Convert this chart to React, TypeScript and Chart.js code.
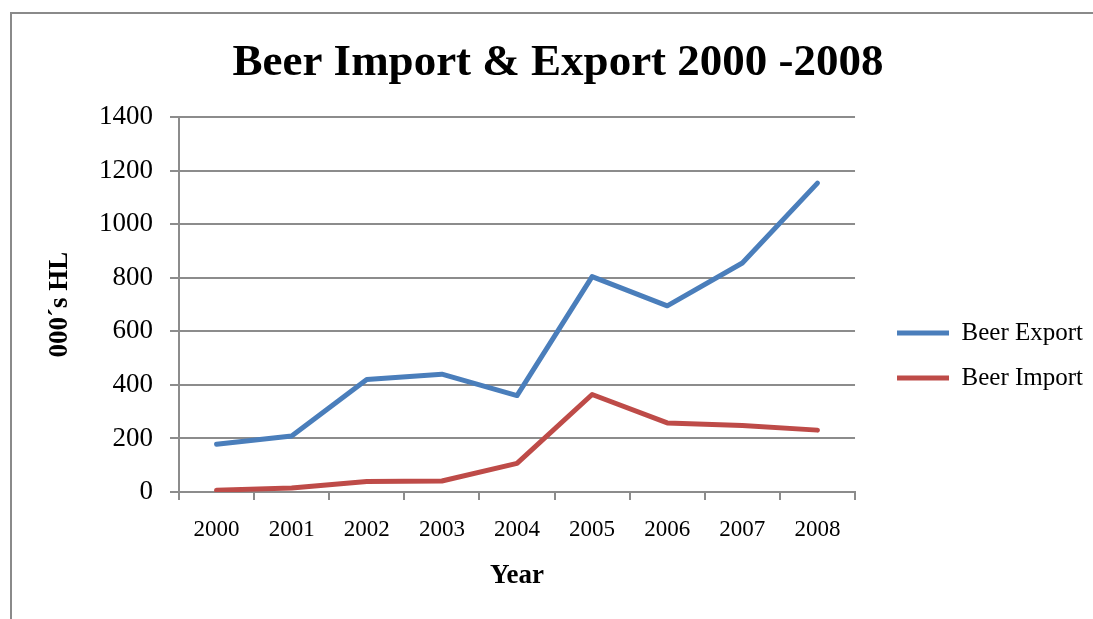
import React, { useEffect, useRef } from 'react';
import { Chart, registerables } from 'chart.js';

Chart.register(...registerables);

const years = ['2000', '2001', '2002', '2003', '2004', '2005', '2006', '2007', '2008'];
const beerExport = [178, 209, 420, 440, 360, 804, 695, 855, 1153];
const beerImport = [7, 15, 39, 41, 107, 364, 258, 248, 231];
const yMin = 0;
const yMax = 1400;
const yStep = 200;

const SERIF = '"Liberation Serif", "Times New Roman", serif';
const GRID = '#8c8c8c';

export default function App() {
  const ref = useRef<HTMLCanvasElement | null>(null);

  useEffect(() => {
    if (!ref.current) return;
    const chart = new Chart(ref.current, {
      type: 'line',
      data: {
        labels: years,
        datasets: [
          {
            label: 'Beer Export',
            data: beerExport,
            borderColor: '#4A7EBB',
            backgroundColor: '#4A7EBB',
            borderWidth: 5,
            pointRadius: 0,
            tension: 0,
            borderCapStyle: 'round',
            borderJoinStyle: 'round',
          },
          {
            label: 'Beer Import',
            data: beerImport,
            borderColor: '#BE4B48',
            backgroundColor: '#BE4B48',
            borderWidth: 5,
            pointRadius: 0,
            tension: 0,
            borderCapStyle: 'round',
            borderJoinStyle: 'round',
          },
        ],
      },
      options: {
        responsive: false,
        animation: false,
        devicePixelRatio: 1,
        layout: { padding: { left: 23, right: 0, top: 0, bottom: 0 } },
        plugins: {
          tooltip: { enabled: false },
          title: {
            display: true,
            text: 'Beer Import & Export 2000 -2008',
            color: '#000',
            font: { family: SERIF, size: 45, weight: 'bold' },
            padding: { top: 36, bottom: 27 },
          },
          legend: {
            display: true,
            position: 'right',
            align: 'center',
            maxWidth: 216,
            title: {
              display: true,
              text: ' ',
              font: { size: 12 },
              padding: { top: 77.6, bottom: 0 },
            },
            labels: {
              color: '#000',
              font: { family: SERIF, size: 25 },
              boxWidth: 52,
              boxHeight: 5,
              padding: 20,
              generateLabels: (c: any) =>
                c.data.datasets.map((ds: any, i: number) => ({
                  text: ds.label,
                  fillStyle: ds.borderColor,
                  strokeStyle: ds.borderColor,
                  lineWidth: 0,
                  hidden: false,
                  datasetIndex: i,
                  fontColor: '#000',
                })),
            },
          },
        },
        scales: {
          x: {
            type: 'category',
            offset: true,
            grid: {
              display: true,
              offset: true,
              drawOnChartArea: false,
              drawTicks: true,
              tickLength: 8,
              color: GRID,
              lineWidth: 2,
            },
            border: { display: true, color: GRID, width: 2 },
            ticks: {
              color: '#000',
              font: { family: SERIF, size: 23 },
              padding: 16,
              maxRotation: 0,
              autoSkip: false,
            },
            title: {
              display: true,
              text: 'Year',
              color: '#000',
              font: { family: SERIF, size: 27, weight: 'bold' },
              padding: { top: 26.8, bottom: 26.8 },
            },
            afterFit: (s: any) => {
              s.height = 127;
            },
          },
          y: {
            min: yMin,
            max: yMax,
            grid: {
              color: GRID,
              lineWidth: 2,
              tickLength: 9,
              drawTicks: true,
            },
            border: { display: true, color: GRID, width: 2 },
            ticks: {
              stepSize: yStep,
              color: '#000',
              font: { family: SERIF, size: 27 },
              padding: 17,
              callback: (v: any) => String(v),
            },
            title: {
              display: true,
              text: '000´s HL',
              color: '#000',
              font: { family: SERIF, size: 27, weight: 'bold' },
              padding: { top: 20.8, bottom: 0 },
            },
            afterFit: (s: any) => {
              s.width = 156;
            },
          },
          spacer: {
            type: 'linear',
            position: 'right',
            display: true,
            min: 0,
            max: 1,
            grid: { display: false, drawTicks: false },
            border: { display: false },
            ticks: { display: false },
            afterFit: (s: any) => {
              s.width = 22;
            },
          },
        },
      },
    } as any);
    return () => chart.destroy();
  }, []);

  return (
    <div style={{ position: 'fixed', left: 0, top: 0, width: 1093, height: 619, overflow: 'hidden', background: '#fff' }}>
      <div
        style={{
          position: 'absolute',
          left: 10,
          top: 12,
          width: 1200,
          height: 800,
          borderLeft: '2px solid #8a8a8a',
          borderTop: '2px solid #8a8a8a',
          boxSizing: 'border-box',
        }}
      />
      <canvas ref={ref} width={1093} height={619} style={{ position: 'absolute', left: 0, top: 0, width: 1093, height: 619 }} />
    </div>
  );
}
